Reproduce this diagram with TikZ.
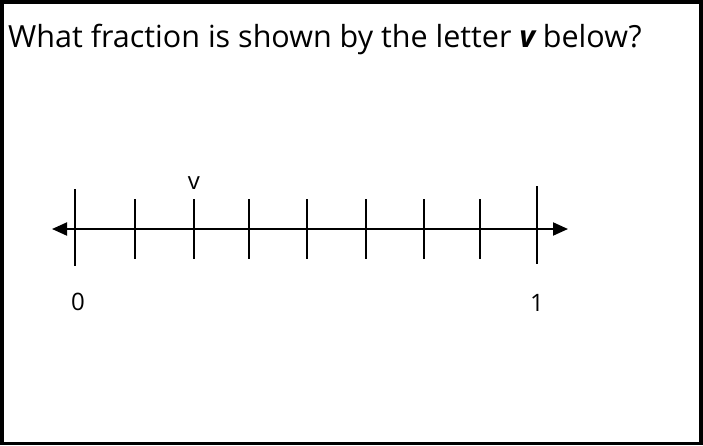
\documentclass[tikz,border=0pt]{standalone}
\usepackage{fontspec}
\setmainfont{Open Sans}
\usepackage{tikz}
\usetikzlibrary{arrows.meta, positioning}

\begin{document}
\begin{tikzpicture}[
  x=1pt, y=-1pt,
  frame/.style={draw, line width=3.5pt},
  axis/.style={{Triangle[length=15pt,width=13pt]}-{Triangle[length=15pt,width=13pt]}, line width=2pt},
  tick/.style={line width=2pt},
  lbl/.style={font=\fontsize{24}{28}\selectfont, inner sep=0pt},
  question/.style={font=\fontsize{30.5}{36}\selectfont, inner sep=0pt, anchor=west}
]
\useasboundingbox (0,0) rectangle (703,445);
\draw[frame] (1.75,1.75) rectangle (700.75,443.25);

\node[question] (q) at (8,39) {What fraction is shown by the letter {\bfseries\itshape v} below?};

% number line
\coordinate (lft) at (52,229);
\coordinate (rgt) at (568,229);
\draw[axis] (lft) -- (rgt);

% small ticks
\foreach \x [count=\i] in {135,194,249,307,366,424,480} {
  \coordinate (t\i top) at (\x,199);
  \coordinate (t\i bot) at (\x,259);
  \draw[tick] (t\i top) -- (t\i bot);
}
% end ticks
\coordinate (zero top) at (75,189);
\coordinate (zero bot) at (75,266);
\coordinate (one top) at (537,186);
\coordinate (one bot) at (537,264);
\draw[tick] (zero top) -- (zero bot);
\draw[tick] (one top) -- (one bot);

\node[lbl] (v) at (194,183) {v};
\node[lbl] (zero) at (78,302) {0};
\node[lbl] (one) at (537,303) {1};
\end{tikzpicture}
\end{document}
